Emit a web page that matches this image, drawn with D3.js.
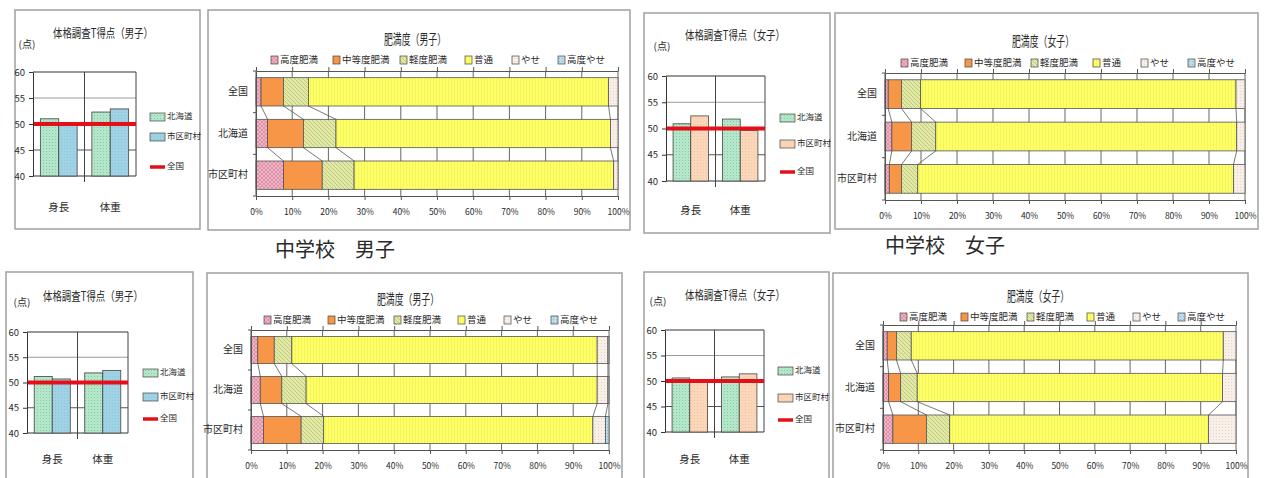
<!DOCTYPE html>
<html><head><meta charset="utf-8">
<script src="https://cdn.jsdelivr.net/npm/d3@7"></script>
<style>
body{margin:0;background:#fff}
svg{display:block}
text{font-family:"Noto Sans CJK JP","Noto Sans",sans-serif;fill:#2a2a2a}
</style>
</head><body>
<svg id="c" width="1266" height="478"></svg>
<script>
// ---------- DATA ----------
const barCategories = ["身長", "体重"];
const barSeries = ["北海道", "市区町村"];
const nationalLabel = "全国";
const nationalT = 50;
const tTicks = [40, 45, 50, 55, 60];

const tBoysTopHokkaido = [51.0, 52.3];
const tBoysTopMunicipal = [49.8, 52.9];
const tGirlsTopHokkaido = [50.9, 51.8];
const tGirlsTopMunicipal = [52.4, 49.6];
const tBoysBottomHokkaido = [51.2, 51.9];
const tBoysBottomMunicipal = [50.7, 52.4];
const tGirlsBottomHokkaido = [50.6, 50.8];
const tGirlsBottomMunicipal = [49.7, 51.4];

const obesityClasses = ["高度肥満", "中等度肥満", "軽度肥満", "普通", "やせ", "高度やせ"];
const regions = ["全国", "北海道", "市区町村"];
const pctTicks = [0, 10, 20, 30, 40, 50, 60, 70, 80, 90, 100];

// rows: 全国, 北海道, 市区町村 ; columns follow obesityClasses (%)
const obBoysTop = [
  [1.4, 6.2, 6.9, 82.9, 2.6, 0.0],
  [3.2, 9.9, 9.0, 75.8, 2.1, 0.0],
  [7.6, 10.7, 8.8, 71.7, 1.2, 0.0]
];
const obGirlsTop = [
  [0.9, 3.7, 5.3, 87.6, 2.5, 0.0],
  [1.9, 5.5, 6.7, 83.6, 2.3, 0.0],
  [1.2, 3.4, 4.5, 87.7, 3.2, 0.0]
];
const obBoysBottom = [
  [1.9, 4.6, 4.9, 85.3, 3.0, 0.3],
  [2.6, 6.0, 6.8, 81.3, 3.0, 0.3],
  [3.5, 10.5, 6.3, 75.2, 3.5, 1.0]
];
const obGirlsBottom = [
  [1.2, 2.6, 4.2, 88.4, 3.6, 0.0],
  [1.6, 3.4, 4.7, 86.5, 3.8, 0.0],
  [2.8, 9.5, 6.6, 73.3, 7.8, 0.0]
];
const sectionLabels = ["中学校　男子", "中学校　女子"];

// ---------- SETUP ----------
const svg = d3.select("#c");
const defs = svg.append("defs");

function pattern(id, base, size, marks) {
  const p = defs.append("pattern").attr("id", id).attr("patternUnits", "userSpaceOnUse")
    .attr("width", size).attr("height", size);
  p.append("rect").attr("width", size).attr("height", size).attr("fill", base);
  marks(p);
}
pattern("pGreen", "#b4e6c9", 3, p => p.append("rect").attr("x", 1).attr("y", 1).attr("width", 1).attr("height", 1).attr("fill", "#86c9a2"));
pattern("pBlue", "#9fd2e4", 3, p => p.append("rect").attr("x", 1).attr("y", 1).attr("width", 1).attr("height", 1).attr("fill", "#8cc4d8"));
pattern("pPeach", "#fcd6b8", 3, p => p.append("rect").attr("x", 1).attr("y", 1).attr("width", 1).attr("height", 1).attr("fill", "#f2c6a4"));
pattern("pPink", "#eeb3c4", 4, p => {
  p.append("path").attr("d", "M0,4L4,0M0,0L4,4").attr("stroke", "#d98aa2").attr("stroke-width", 0.8);
});
pattern("pOrange", "#f79646", 4, p => {});
pattern("pOlive", "#e2e9a8", 4, p => {
  p.append("path").attr("d", "M0,0L4,4M-1,3L1,5M3,-1L5,1").attr("stroke", "#b9c46e").attr("stroke-width", 0.8);
});
pattern("pYellow", "#ffff66", 3, p => {
  p.append("rect").attr("x", 1).attr("width", 0.6).attr("height", 3).attr("fill", "#eded55");
});
pattern("pThin", "#f8efe8", 3, p => p.append("rect").attr("x", 1).attr("y", 1).attr("width", 1).attr("height", 1).attr("fill", "#e6d6ca"));
pattern("pSevThin", "#bcdcec", 3, p => p.append("rect").attr("x", 1).attr("y", 1).attr("width", 1).attr("height", 1).attr("fill", "#8fb8cc"));

const obFills = ["url(#pPink)", "url(#pOrange)", "url(#pOlive)", "url(#pYellow)", "url(#pThin)", "url(#pSevThin)"];

function box(b) {
  svg.append("rect").attr("x", b[0]).attr("y", b[1]).attr("width", b[2] - b[0]).attr("height", b[3] - b[1])
    .attr("fill", "#fff").attr("stroke", "#a0a0a0").attr("stroke-width", 1.5);
}

// ---------- T-score chart ----------
function tChart(cfg) {
  box(cfg.box);
  const g = svg.append("g");
  const y = d3.scaleLinear().domain([40, 60]).range([cfg.y40, cfg.y60]);
  const x = d3.scaleBand().domain(barCategories).range([cfg.x0, cfg.x1]);
  const xs = d3.scaleBand().domain(barSeries).range([0, x.bandwidth()]).paddingOuter(0.4);

  g.selectAll(".grid").data(tTicks).join("line")
    .attr("x1", cfg.x0).attr("x2", cfg.x1).attr("y1", d => y(d)).attr("y2", d => y(d))
    .attr("stroke", d => (d === 40 || d === 60) ? "#333" : (d === 55 ? "#9a9a9a" : "#555"))
    .attr("stroke-width", 1);
  g.append("line").attr("x1", cfg.x1).attr("x2", cfg.x1).attr("y1", y(60)).attr("y2", y(40)).attr("stroke", "#444");
  g.append("line").attr("x1", x(barCategories[1])).attr("x2", x(barCategories[1]))
    .attr("y1", y(60)).attr("y2", y(40) + 6).attr("stroke", "#444");

  const rows = barCategories.map((c, i) => ({ cat: c, vals: [cfg.values[0][i], cfg.values[1][i]] }));
  rows.forEach(r => {
    barSeries.forEach((s, si) => {
      g.append("rect")
        .attr("x", x(r.cat) + xs(s)).attr("width", xs.bandwidth())
        .attr("y", y(r.vals[si])).attr("height", y(40) - y(r.vals[si]))
        .attr("fill", si === 0 ? "url(#pGreen)" : cfg.fill2)
        .attr("stroke", "#444").attr("stroke-width", 0.8);
    });
  });

  g.append("line").attr("x1", cfg.x0).attr("x2", cfg.x1).attr("y1", y(nationalT)).attr("y2", y(nationalT))
    .attr("stroke", "#e3101a").attr("stroke-width", 4);

  const ya = g.append("g").attr("transform", `translate(${cfg.x0},0)`)
    .call(d3.axisLeft(y).tickValues(tTicks).tickSize(4).tickSizeOuter(0).tickPadding(4));
  ya.select(".domain").attr("stroke", "#333");
  ya.selectAll("line").attr("stroke", "#333");
  ya.selectAll("text").attr("font-size", 9.5).attr("fill", "#444").style("font-family", "'Noto Sans CJK JP'");

  const xa = g.append("g").attr("transform", `translate(0,${y(40)})`)
    .call(d3.axisBottom(x).tickSize(0).tickPadding(cfg.catY - y(40) - 6));
  xa.select(".domain").remove();
  xa.selectAll("text").attr("font-size", 10.5).attr("fill", "#2a2a2a").style("font-family", "'Noto Sans CJK JP'");

  g.append("text").attr("x", cfg.title[0]).attr("y", cfg.title[1]).attr("text-anchor", "middle")
    .attr("dominant-baseline", "middle").attr("font-size", 12.5).attr("textLength", 100)
    .attr("lengthAdjust", "spacingAndGlyphs").text(cfg.titleText);
  g.append("text").attr("x", cfg.unit[0]).attr("y", cfg.unit[1]).attr("text-anchor", "middle")
    .attr("dominant-baseline", "middle").attr("font-size", 10).text("(点)");

  const lg = g.append("g");
  const lx = cfg.legendX;
  barSeries.forEach((s, i) => {
    lg.append("rect").attr("x", lx).attr("y", cfg.legendY[i] - 4).attr("width", 15).attr("height", 8)
      .attr("fill", i === 0 ? "url(#pGreen)" : cfg.fill2).attr("stroke", "#444").attr("stroke-width", 0.7);
    lg.append("text").attr("x", lx + 17).attr("y", cfg.legendY[i]).attr("dominant-baseline", "middle")
      .attr("font-size", 8.5).text(s);
  });
  lg.append("line").attr("x1", lx).attr("x2", lx + 15).attr("y1", cfg.legendY[2]).attr("y2", cfg.legendY[2])
    .attr("stroke", "#e3101a").attr("stroke-width", 3.5);
  lg.append("text").attr("x", lx + 17).attr("y", cfg.legendY[2]).attr("dominant-baseline", "middle")
    .attr("font-size", 8.5).text(nationalLabel);
}

// ---------- Obesity chart ----------
function obChart(cfg) {
  box(cfg.box);
  const g = svg.append("g");
  const x = d3.scaleLinear().domain([0, 100]).range([cfg.x0, cfg.x1]);
  const y = d3.scaleBand().domain(regions).range([cfg.yTop, cfg.yBot]).paddingInner(0.32).paddingOuter(0.16);
  const table = regions.map((r, i) => {
    const o = { region: r };
    obesityClasses.forEach((c, j) => o[c] = cfg.data[i][j]);
    return o;
  });
  const stacked = d3.stack().keys(obesityClasses)(table);

  g.selectAll(".vg").data(pctTicks.slice(1)).join("line")
    .attr("x1", d => x(d)).attr("x2", d => x(d)).attr("y1", cfg.yTop).attr("y2", cfg.yBot)
    .attr("stroke", "#666").attr("stroke-width", 1);

  const ta = g.append("g").attr("transform", `translate(0,${cfg.yTop})`)
    .call(d3.axisTop(x).tickValues(pctTicks).tickSize(4).tickSizeOuter(0).tickFormat(""));
  ta.selectAll("line,path").attr("stroke", "#555");
  const ba = g.append("g").attr("transform", `translate(0,${cfg.yBot})`)
    .call(d3.axisBottom(x).tickValues(pctTicks).tickSize(4).tickSizeOuter(0).tickPadding(9).tickFormat(d => d + "%"));
  ba.selectAll("line,path").attr("stroke", "#555");
  ba.selectAll("text").attr("font-size", 8.5).attr("fill", "#444").style("font-family", "'Noto Sans CJK JP'");

  stacked.forEach((layer, k) => {
    g.selectAll(null).data(layer).join("rect")
      .attr("x", d => x(d[0])).attr("width", d => Math.max(0, x(d[1]) - x(d[0])))
      .attr("y", (d, i) => y(regions[i])).attr("height", y.bandwidth())
      .attr("fill", obFills[k]).attr("stroke", "#555").attr("stroke-width", 0.8);
  });

  stacked.slice(0, 5).forEach(layer => {
    for (let i = 0; i < regions.length - 1; i++) {
      g.append("line")
        .attr("x1", x(layer[i][1])).attr("y1", y(regions[i]) + y.bandwidth())
        .attr("x2", x(layer[i + 1][1])).attr("y2", y(regions[i + 1]))
        .attr("stroke", "#555").attr("stroke-width", 0.8);
    }
  });

  const la = g.append("g").attr("transform", `translate(${cfg.x0},0)`)
    .call(d3.axisLeft(y).tickSize(0).tickPadding(8));
  la.select(".domain").attr("stroke", "#555");
  la.selectAll("text").attr("font-size", 10).attr("fill", "#2a2a2a").style("font-family", "'Noto Sans CJK JP'");
  const step = y.step();
  [0, 1, 2, 3].forEach(i => {
    const yy = cfg.yTop + i * step;
    g.append("line").attr("x1", cfg.x0 - 3).attr("x2", cfg.x0).attr("y1", yy).attr("y2", yy).attr("stroke", "#555");
  });
  g.append("line").attr("x1", cfg.x0).attr("x2", cfg.x0).attr("y1", cfg.yTop).attr("y2", cfg.yBot).attr("stroke", "#555");

  g.append("text").attr("x", cfg.title[0]).attr("y", cfg.title[1]).attr("text-anchor", "middle")
    .attr("dominant-baseline", "middle").attr("font-size", 13.5).attr("textLength", 62)
    .attr("lengthAdjust", "spacingAndGlyphs").text(cfg.titleText);

  obesityClasses.forEach((c, k) => {
    const sx = cfg.legendX[k];
    g.append("rect").attr("x", sx).attr("y", cfg.legendY - 4).attr("width", 7).attr("height", 8)
      .attr("fill", obFills[k]).attr("stroke", "#444").attr("stroke-width", 0.7);
    g.append("text").attr("x", sx + 9).attr("y", cfg.legendY).attr("dominant-baseline", "middle")
      .attr("font-size", 9.5).text(c);
  });
}

// ---------- PANELS ----------
tChart({ box: [15, 10, 200, 229], x0: 33, x1: 136, y60: 72, y40: 176, catY: 210,
  title: [103, 35], titleText: "体格調査T得点（男子）", unit: [27, 45],
  legendX: 150, legendY: [117, 137, 167], fill2: "url(#pBlue)",
  values: [tBoysTopHokkaido, tBoysTopMunicipal] });
obChart({ box: [208, 10, 630, 230], x0: 256, x1: 618, yTop: 71, yBot: 196,
  title: [415, 40], titleText: "肥満度（男子）", legendY: 60,
  legendX: [271, 333, 400, 465, 512, 558], data: obBoysTop });
tChart({ box: [644, 13, 830, 233], x0: 666, x1: 765, y60: 76, y40: 181, catY: 213,
  title: [735, 37], titleText: "体格調査T得点（女子）", unit: [662, 47],
  legendX: 780, legendY: [118, 144, 172], fill2: "url(#pPeach)",
  values: [tGirlsTopHokkaido, tGirlsTopMunicipal] });
obChart({ box: [835, 13, 1258, 229], x0: 885, x1: 1245, yTop: 73, yBot: 200,
  title: [1043, 42], titleText: "肥満度（女子）", legendY: 63,
  legendX: [901, 965, 1031, 1093, 1141, 1188], data: obGirlsTop });

tChart({ box: [6, 272, 193, 482], x0: 27, x1: 128, y60: 332, y40: 433, catY: 462,
  title: [93, 298], titleText: "体格調査T得点（男子）", unit: [22, 303],
  legendX: 143, legendY: [373, 397, 419], fill2: "url(#pBlue)",
  values: [tBoysBottomHokkaido, tBoysBottomMunicipal] });
obChart({ box: [207, 273, 622, 482], x0: 251, x1: 609, yTop: 330, yBot: 450,
  title: [408, 300], titleText: "肥満度（男子）", legendY: 320,
  legendX: [264, 328, 394, 458, 504, 551], data: obBoysBottom });
tChart({ box: [644, 272, 829, 482], x0: 665, x1: 764, y60: 330, y40: 432, catY: 462,
  title: [735, 297], titleText: "体格調査T得点（女子）", unit: [658, 302],
  legendX: 778, legendY: [371, 398, 420], fill2: "url(#pPeach)",
  values: [tGirlsBottomHokkaido, tGirlsBottomMunicipal] });
obChart({ box: [833, 273, 1248, 482], x0: 883, x1: 1236, yTop: 325, yBot: 450,
  title: [1038, 297], titleText: "肥満度（女子）", legendY: 317,
  legendX: [900, 961, 1027, 1087, 1133, 1178], data: obGirlsBottom });

svg.append("text").attr("x", 335).attr("y", 252).attr("text-anchor", "middle").attr("dominant-baseline", "middle")
  .attr("font-size", 20).attr("fill", "#2a2a2a").text(sectionLabels[0]);
svg.append("text").attr("x", 945).attr("y", 248).attr("text-anchor", "middle").attr("dominant-baseline", "middle")
  .attr("font-size", 20).attr("fill", "#2a2a2a").text(sectionLabels[1]);
</script>
</body></html>
